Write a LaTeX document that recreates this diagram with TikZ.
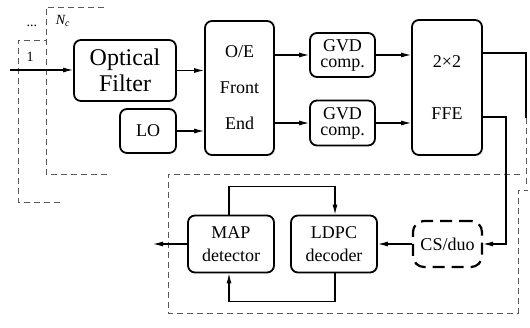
\documentclass[tikz,border=0pt]{standalone}
\usepackage{fontspec}
\setmainfont{Liberation Serif}
\usetikzlibrary{positioning,arrows.meta}

\tikzset{
  blk/.style={draw, line width=1.8pt, rounded corners=7pt, align=center, inner sep=0pt, font=\fontsize{18}{16}\selectfont},
  csblk/.style={blk, dash pattern=on 12pt off 7pt, line width=2.2pt, rounded corners=11pt},
  conn/.style={line width=1.1pt, -{Latex[length=10pt,width=5pt]}},
  wire/.style={line width=1.1pt},
  frm/.style={draw=black!65, line width=0.9pt, dash pattern=on 6pt off 4pt},
  lbl/.style={inner sep=0pt, font=\fontsize{14}{14}\selectfont}
}

\begin{document}
\begin{tikzpicture}[x=1pt,y=-1pt]
\useasboundingbox (0,0) rectangle (530,328);

% stacked channel frames
\draw[frm] (60,202) -- (18,202) -- (18,40) -- (46,40);
\draw[frm] (107,174) -- (46,174) -- (46,7) -- (107,7);
\draw[frm] (520,174) -- (168,174) -- (168,313) -- (518,313) -- (518,190) -- (528,190);
\draw[frm] (526,118) -- (526,184);

\node[lbl] (one) at (30,57) {1};
\node[lbl] (dots) at (32,26) {...};
\node[lbl] (nc) at (63,21) {\itshape N\textsubscript{c}};

% front end
\node[blk, minimum width=102pt, minimum height=61pt, font=\fontsize{24}{26}\selectfont] (filter) at (125,70.5) {Optical\\Filter};
\node[blk, minimum width=56pt, minimum height=44pt] (lo) at (148,131) {LO};
\node[blk, minimum width=69pt, minimum height=134pt, font=\fontsize{18}{36}\selectfont] (oe) at (239.5,88) {O/E\\Front\\End};
\node[blk, minimum width=65pt, minimum height=44pt] (gvdA) at (342.5,55) {GVD\\comp.};
\node[blk, minimum width=65pt, minimum height=45pt] (gvdB) at (342.5,123) {GVD\\comp.};
\node[blk, minimum width=70pt, minimum height=135pt, font=\fontsize{18}{52}\selectfont] (ffe) at (447,87.5) {2×2\\FFE};

% decoder side
\node[blk, minimum width=86pt, minimum height=57pt, font=\fontsize{18}{23}\selectfont] (map) at (231,244) {MAP\\detector};
\node[blk, minimum width=86pt, minimum height=57pt, font=\fontsize{18}{23}\selectfont] (ldpc) at (334,244) {LDPC\\decoder};
\node[csblk, minimum width=69pt, minimum height=46pt] (cs) at (447.5,244) {CS/duo};

\coordinate (in) at (10,70);
\coordinate (out) at (153,244);
\coordinate (tapA) at (526,53);
\coordinate (tapB) at (506,117);

\draw[conn] (in) -- (in -| filter.west);
\draw[conn] (filter.east) -- (filter.east -| oe.west);
\draw[conn] (lo.east) -- (lo.east -| oe.west);
\draw[conn] (oe.east |- gvdA.west) -- (gvdA.west);
\draw[conn] (oe.east |- gvdB.west) -- (gvdB.west);
\draw[conn] (gvdA.east) -- (gvdA.east -| ffe.west);
\draw[conn] (gvdB.east) -- (gvdB.east -| ffe.west);
\draw[wire] (ffe.east |- tapA) -- (tapA) -- ++(0,65);
\draw[conn] (ffe.east |- tapB) -- (tapB) |- (cs.east);
\draw[conn] (cs.west) -- (ldpc.east);
\draw[conn] (map.west) -- (out);
\draw[conn] ([xshift=-2pt]map.north) -- ++(0,-28) -| ([xshift=1pt]ldpc.north);
\draw[conn] ([xshift=1pt]ldpc.south) -- ++(0,28) -| ([xshift=-2pt]map.south);

\end{tikzpicture}
\end{document}
